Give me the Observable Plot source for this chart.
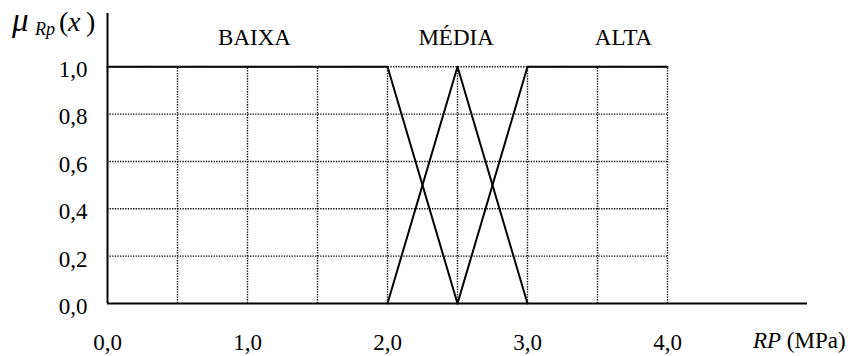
<!DOCTYPE html>
<html>
<head>
<meta charset="utf-8">
<script src="https://cdn.jsdelivr.net/npm/d3@7"></script>
<script src="https://cdn.jsdelivr.net/npm/@observablehq/plot@0.6"></script>
<style>
  html, body { margin: 0; padding: 0; background: #fff; }
  svg { display: block; }
</style>
</head>
<body>
<div id="chart"></div>
<script>
// Membership function vertices (x in MPa, y = membership degree)
const baixaX = [0, 2.0, 2.5];
const baixaY = [1, 1, 0];
const mediaX = [2.0, 2.5, 3.0];
const mediaY = [0, 1, 0];
const altaX = [2.5, 3.0, 4.0];
const altaY = [0, 1, 1];

// Category labels and their anchor points
const labelNames = ["BAIXA", "MÉDIA", "ALTA"];
const labelX = [1.05, 2.49, 3.686];
const labelY = [1.125, 1.125, 1.125];

// Ticks and grid
const xTicks = [0, 1, 2, 3, 4];
const yTicks = [0, 0.2, 0.4, 0.6, 0.8, 1.0];
const gridX = [0.5, 1, 1.5, 2, 2.5, 3, 3.5, 4];
const gridY = [0.2, 0.4, 0.6, 0.8, 1.0];

const series = [
  ...baixaX.map((x, i) => ({set: "BAIXA", x, y: baixaY[i]})),
  ...mediaX.map((x, i) => ({set: "MÉDIA", x, y: mediaY[i]})),
  ...altaX.map((x, i) => ({set: "ALTA", x, y: altaY[i]}))
];
const labels = labelNames.map((t, i) => ({t, x: labelX[i], y: labelY[i]}));

const fmt = d => d.toFixed(1).replace(".", ",");
const FONT = "'Liberation Serif', 'Times New Roman', serif";
const FS = 23;

const plot = Plot.plot({
  width: 859,
  height: 356,
  marginLeft: 107,
  marginRight: 52,
  marginTop: 13,
  marginBottom: 53,
  style: {fontFamily: FONT, fontSize: FS + "px", color: "#000", background: "#fff"},
  x: {domain: [0, 5]},
  y: {domain: [0, 1.225]},
  marks: [
    Plot.ruleX(gridX, {y1: 0, y2: 1, stroke: "#000", strokeWidth: 1.4, strokeDasharray: "1.3,1.3"}),
    Plot.ruleY(gridY, {x1: 0, x2: 4, stroke: "#000", strokeWidth: 1.4, strokeDasharray: "1.3,1.3"}),
    Plot.line(series, {x: "x", y: "y", z: "set", stroke: "#000", strokeWidth: 2}),
    Plot.ruleX([0], {stroke: "#000", strokeWidth: 2}),
    Plot.ruleY([0], {stroke: "#000", strokeWidth: 2}),
    Plot.axisX({ticks: xTicks, tickFormat: fmt, tickSize: 0, tickPadding: 30, fontSize: FS, label: null}),
    Plot.axisY({ticks: yTicks, tickFormat: fmt, tickSize: 0, tickPadding: 20, dy: 3, fontSize: FS, label: null}),
    Plot.text(labels, {x: "x", y: "y", text: "t", fontSize: FS, fill: "#000"})
  ]
});

const svg = d3.select(plot);
// y-axis title: μ_Rp(x)
const yt = svg.append("text")
  .attr("y", 31)
  .attr("text-anchor", "start")
  .attr("font-family", FONT)
  .attr("fill", "#000");
yt.append("tspan").attr("x", 12).attr("font-size", 33).attr("font-style", "italic").text("μ");
yt.append("tspan").attr("x", 35).attr("dy", 4).attr("font-size", 18).attr("font-style", "italic").text("Rp");
yt.append("tspan").attr("x", 59).attr("dy", -4).attr("font-size", 28).text("(");
yt.append("tspan").attr("x", 68).attr("font-size", 28).attr("font-style", "italic").text("x");
yt.append("tspan").attr("x", 86).attr("font-size", 28).text(")");

// x-axis title: RP (MPa)
const xt = svg.append("text")
  .attr("x", 753)
  .attr("y", 348)
  .attr("text-anchor", "start")
  .attr("font-family", FONT)
  .attr("font-size", FS)
  .attr("fill", "#000");
xt.append("tspan").attr("font-style", "italic").text("RP");
xt.append("tspan").text(" (MPa)");

document.getElementById("chart").appendChild(plot);
</script>
</body>
</html>
